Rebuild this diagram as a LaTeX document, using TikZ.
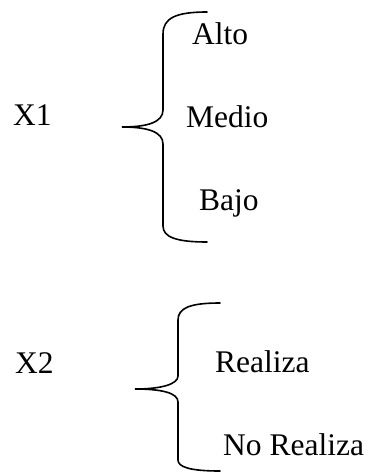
\documentclass[tikz,border=0pt]{standalone}
\usepackage{fontspec}
\setmainfont{Liberation Serif}
\begin{document}
\begin{tikzpicture}[x=1pt,y=-1pt,
  lbl/.style={anchor=base west,inner sep=0pt,font=\fontsize{31.5}{38}\selectfont},
  bracepath/.style={line width=1.6pt,line cap=round}]
\useasboundingbox (0,0) rectangle (370,473);
% group 1
\node[lbl] (x1) at (13,126) {X1};
\node[lbl] (alto) at (192,45) {Alto};
\node[lbl] (medio) at (186,128) {Medio};
\node[lbl] (bajo) at (199,210) {Bajo};
\draw[bracepath] (207,12) .. controls (176,12) and (163,18) .. (163,34)
  -- (163,110) .. controls (163,122) and (148,127) .. (122,127)
  .. controls (148,127) and (163,132) .. (163,144)
  -- (163,226) .. controls (163,237) and (176,242) .. (207,242);
% group 2
\node[lbl] (x2) at (15,373) {X2};
\node[lbl] (realiza) at (215,372) {Realiza};
\node[lbl] (norealiza) at (223,455) {No Realiza};
\draw[bracepath] (220,303) .. controls (190,303) and (178,308) .. (178,320)
  -- (178,376) .. controls (178,384) and (162,389) .. (135,389)
  .. controls (162,389) and (178,393) .. (178,402)
  -- (178,460) .. controls (178,467) and (190,471) .. (220,471);
\end{tikzpicture}
\end{document}
